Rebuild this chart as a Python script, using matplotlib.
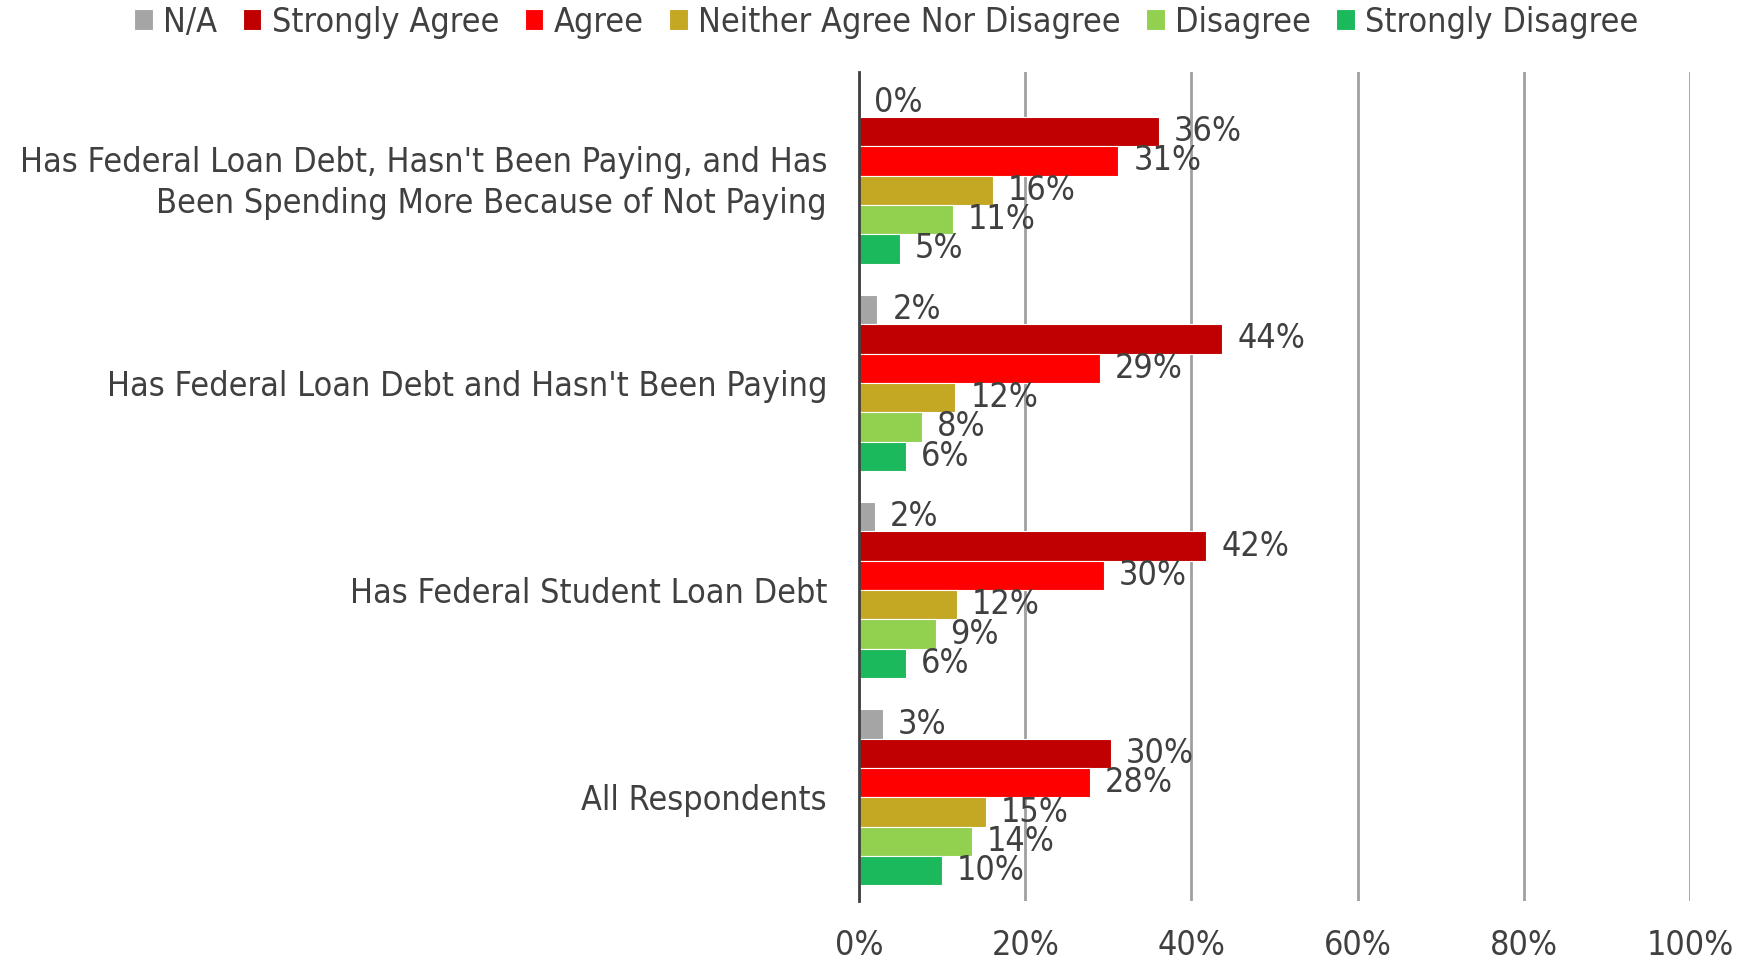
import numpy as np
import matplotlib.pyplot as plt
from matplotlib.ticker import PercentFormatter

# survey groups, listed bottom to top as they sit on the axis
groups = [
    "All Respondents",
    "Has Federal Student Loan Debt",
    "Has Federal Loan Debt and Hasn't Been Paying",
    "Has Federal Loan Debt, Hasn't Been Paying, and Has\nBeen Spending More Because of Not Paying",
]
responses = ["N/A", "Strongly Agree", "Agree", "Neither Agree Nor Disagree",
             "Disagree", "Strongly Disagree"]
colors = ["#a5a5a5", "#c00000", "#ff0000", "#c4a723", "#92d050", "#1cb85c"]

# share of each group giving each response (percent)
na_pct = [2.9, 1.9, 2.2, 0.0]
strongly_agree_pct = [30.3, 41.8, 43.7, 36.1]
agree_pct = [27.8, 29.5, 29.0, 31.2]
neither_pct = [15.3, 11.8, 11.6, 16.1]
disagree_pct = [13.6, 9.2, 7.6, 11.3]
strongly_disagree_pct = [10.0, 5.6, 5.6, 4.9]

series = [na_pct, strongly_agree_pct, agree_pct, neither_pct,
          disagree_pct, strongly_disagree_pct]

text_color = "#404040"
plt.rcParams['font.family'] = ['DejaVu Sans']
plt.rcParams['font.stretch'] = 'condensed'
fs = 24.5

fig = plt.figure(figsize=(17.45, 9.66), dpi=100)
ax = fig.add_axes([0.4923, 0.0673, 0.4762, 0.8582])

h = 0.1415
base = np.arange(len(groups))
for j, (name, vals, c) in enumerate(zip(responses, series, colors)):
    y = base + (2.5 - j) * h
    ax.barh(y, vals, height=h, color=c, label=name,
            edgecolor="white", linewidth=0.8, zorder=3)
    for yy, v in zip(y, vals):
        ax.text(v + 1.8, yy, f"{v:.0f}%", va="center", ha="left",
                fontsize=fs, color=text_color, zorder=4)

ax.set_xlim(0, 100)
ax.set_ylim(-0.5, len(groups) - 0.5)
ax.set_xticks(np.arange(0, 101, 20))
ax.xaxis.set_major_formatter(PercentFormatter(decimals=0))
ax.set_yticks(base)
ax.set_yticklabels(groups)
ax.tick_params(axis="y", length=0, pad=23, labelsize=fs, labelcolor=text_color)
ax.tick_params(axis="x", length=0, pad=20, labelsize=fs, labelcolor=text_color)
for lbl in ax.get_yticklabels():
    lbl.set_horizontalalignment("right")
    lbl.set_multialignment("right")
    lbl.set_linespacing(1.3)

ax.grid(axis="x", color="#a0a0a0", linewidth=2, zorder=0)
for s in ["top", "right", "bottom"]:
    ax.spines[s].set_visible(False)
ax.spines["left"].set_color(text_color)
ax.spines["left"].set_linewidth(2)
ax.spines["left"].set_zorder(5)

fig.legend(loc="center", bbox_to_anchor=(0.508, 0.977), ncol=6, frameon=False,
           fontsize=fs, labelcolor=text_color, handlelength=0.55, handleheight=0.55,
           handletextpad=0.3, columnspacing=0.75)

fig.savefig("out.png", dpi=100)
